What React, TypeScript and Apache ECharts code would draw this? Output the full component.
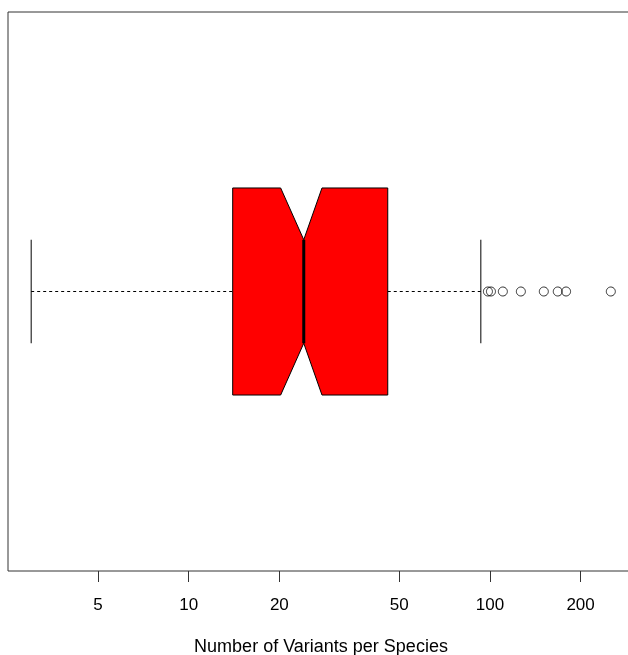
import React, { useEffect, useRef } from "react";
import * as echarts from "echarts";

// Box statistics (raw values)
const BOX_STATS = {
  whiskerLow: 3.0,
  q1: 14.0,
  notchLow: 20.2,
  median: 24.1,
  notchHigh: 27.7,
  q3: 45.8,
  whiskerHigh: 93.3,
};
const OUTLIERS = [98.5, 100.8, 110.4, 126.7, 151, 168, 179, 252];
const TICK_VALUES = [5, 10, 20, 50, 100, 200];
const AXIS_TITLE = "Number of Variants per Species";

const lg = (v: number) => Math.log10(v);

export default function App() {
  const ref = useRef<HTMLDivElement>(null);

  useEffect(() => {
    document.body.style.margin = "0";
    document.body.style.overflow = "hidden";
    document.documentElement.style.overflow = "hidden";
    if (!ref.current) return;
    const chart = echarts.init(ref.current, undefined, { renderer: "svg" });

    const all = [BOX_STATS.whiskerLow, ...OUTLIERS];
    const dMin = lg(Math.min(...all));
    const dMax = lg(Math.max(...all));
    const pad = (dMax - dMin) * 0.04;

    const s = BOX_STATS;
    const boxRow = [
      lg(s.q1),
      lg(s.notchLow),
      lg(s.median),
      lg(s.notchHigh),
      lg(s.q3),
      lg(s.whiskerLow),
      lg(s.whiskerHigh),
      1,
    ];

    const option: any = {
      animation: false,
      grid: {
        left: 8,
        top: 12,
        width: 626,
        height: 559,
        show: true,
        borderColor: "#333",
        borderWidth: 1,
        backgroundColor: "transparent",
        containLabel: false,
        outerBoundsMode: "none",
      },
      xAxis: {
        type: "value",
        min: dMin - pad,
        max: dMax + pad,
        splitLine: { show: false },
        axisLine: { show: false },
        axisTick: {
          show: true,
          length: 11,
          lineStyle: { color: "#333", width: 1 },
          customValues: TICK_VALUES.map(lg),
        },
        axisLabel: {
          show: true,
          margin: 25,
          fontSize: 17,
          fontFamily: "Liberation Sans, Arial, sans-serif",
          color: "#000",
          customValues: TICK_VALUES.map(lg),
          formatter: (v: number) => String(Math.round(Math.pow(10, v))),
        },
        name: AXIS_TITLE,
        nameLocation: "middle",
        nameGap: 66,
        nameTextStyle: {
          fontSize: 18,
          fontFamily: "Liberation Sans, Arial, sans-serif",
          color: "#000",
        },
      },
      yAxis: {
        type: "value",
        min: 0.46,
        max: 1.54,
        show: false,
        splitLine: { show: false },
      },
      series: [
        {
          type: "custom",
          data: [boxRow],
          encode: { x: [0, 1, 2, 3, 4, 5, 6], y: 7 },
          renderItem: (params: any, api: any) => {
            const pos = api.value(7);
            const q1 = api.value(0);
            const nlo = api.value(1);
            const med = api.value(2);
            const nhi = api.value(3);
            const q3 = api.value(4);
            const wlo = api.value(5);
            const whi = api.value(6);
            const halfBox = 0.2;
            const halfNotch = 0.1;
            const halfStaple = 0.1;
            const c = (x: number, y: number) => api.coord([x, y]);
            const poly = [
              c(q1, pos + halfBox),
              c(nlo, pos + halfBox),
              c(med, pos + halfNotch),
              c(nhi, pos + halfBox),
              c(q3, pos + halfBox),
              c(q3, pos - halfBox),
              c(nhi, pos - halfBox),
              c(med, pos - halfNotch),
              c(nlo, pos - halfBox),
              c(q1, pos - halfBox),
            ];
            const line = (a: number[], b: number[], style: any) => ({
              type: "line",
              shape: { x1: a[0], y1: a[1], x2: b[0], y2: b[1] },
              style,
            });
            const dashed = { stroke: "#000", lineWidth: 1, lineDash: [3, 3] };
            const solid = { stroke: "#000", lineWidth: 1 };
            return {
              type: "group",
              children: [
                line(c(wlo, pos), c(q1, pos), dashed),
                line(c(q3, pos), c(whi, pos), dashed),
                line(c(wlo, pos - halfStaple), c(wlo, pos + halfStaple), solid),
                line(c(whi, pos - halfStaple), c(whi, pos + halfStaple), solid),
                {
                  type: "polygon",
                  shape: { points: poly },
                  style: { fill: "#ff0000", stroke: "#000", lineWidth: 1 },
                },
                line(c(med, pos - halfNotch), c(med, pos + halfNotch), {
                  stroke: "#000",
                  lineWidth: 3,
                }),
              ],
            };
          },
        },
        {
          type: "scatter",
          data: OUTLIERS.map((v) => [lg(v), 1]),
          symbol: "circle",
          symbolSize: 9,
          itemStyle: {
            color: "rgba(0,0,0,0)",
            borderColor: "#000",
            borderWidth: 1,
          },
          emphasis: { disabled: true },
        },
      ],
    };

    chart.setOption(option);
    return () => chart.dispose();
  }, []);

  return (
    <div
      ref={ref}
      style={{ position: "fixed", left: 0, top: 0, width: 628, height: 655 }}
    />
  );
}
